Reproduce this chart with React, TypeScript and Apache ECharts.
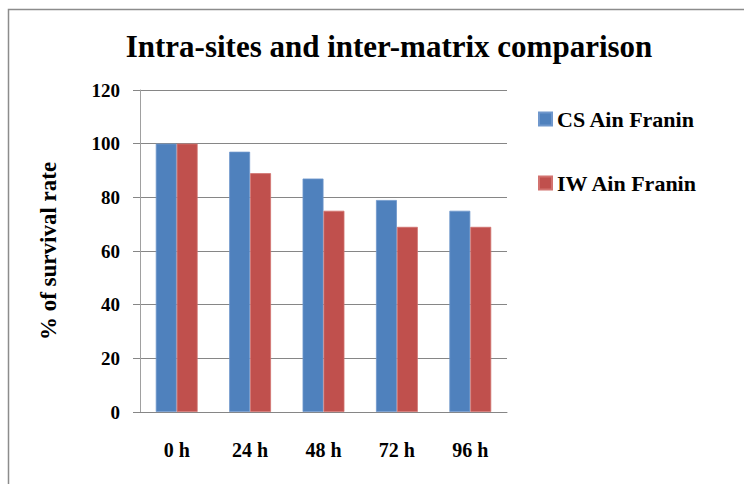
import React, { useEffect, useRef } from "react";
import * as echarts from "echarts";

const categories = ["0 h", "24 h", "48 h", "72 h", "96 h"];
const csAinFranin = [100, 97, 87, 79, 75];
const iwAinFranin = [100, 89, 75, 69, 69];
const seriesNames = ["CS Ain Franin", "IW Ain Franin"];
const titleText = "Intra-sites and inter-matrix comparison";
const yAxisName = "% of survival rate";

const FONT = "'Liberation Serif', 'Times New Roman', serif";

export default function App() {
  const ref = useRef<HTMLDivElement>(null);
  useEffect(() => {
    if (!ref.current) return;
    const chart = echarts.init(ref.current, undefined, { renderer: "svg" });
    chart.setOption({
      animation: false,
      backgroundColor: "#ffffff",
      title: {
        text: titleText,
        left: 384,
        top: 26,
        textAlign: "center",
        textStyle: { fontFamily: FONT, fontWeight: "bold", fontSize: 31, color: "#000" },
      },
      graphic: [
        {
          type: "rect",
          shape: { x: 8.5, y: 9.5, width: 900, height: 600 },
          style: { fill: "none", stroke: "#8c8c8c", lineWidth: 1.5 },
          silent: true,
          z: -1,
        },
      ],
      legend: {
        orient: "vertical",
        left: 533,
        top: 103,
        itemWidth: 13,
        itemHeight: 13,
        itemGap: 42,
        icon: "rect",
        data: seriesNames,
        textStyle: { fontFamily: FONT, fontWeight: "bold", fontSize: 22, color: "#000" },
      },
      grid: { left: 140, right: 744 - 507, top: 90, bottom: 484 - 412, containLabel: false },
      xAxis: {
        type: "category",
        data: categories,
        axisLine: { lineStyle: { color: "#868686", width: 1 } },
        axisTick: { show: false },
        axisLabel: {
          margin: 28,
          fontFamily: FONT,
          fontWeight: "bold",
          fontSize: 20,
          color: "#000",
        },
      },
      yAxis: {
        type: "value",
        min: 0,
        max: 120,
        interval: 20,
        name: yAxisName,
        nameLocation: "middle",
        nameGap: 80,
        nameTextStyle: { fontFamily: FONT, fontWeight: "bold", fontSize: 23, color: "#000" },
        axisLine: { show: true, lineStyle: { color: "#a0a0a0", width: 1 } },
        axisTick: { show: true, length: 7, lineStyle: { color: "#868686" } },
        splitLine: { lineStyle: { color: "#868686", width: 1 } },
        axisLabel: {
          margin: 20,
          fontFamily: FONT,
          fontWeight: "bold",
          fontSize: 19,
          color: "#000",
        },
      },
      series: [
        {
          name: seriesNames[0],
          type: "bar",
          data: csAinFranin,
          barGap: "0%",
          barCategoryGap: "43%",
          itemStyle: { color: "#4F81BD", borderColor: "#6f97cc", borderWidth: 0.8 },
        },
        {
          name: seriesNames[1],
          type: "bar",
          data: iwAinFranin,
          barGap: "0%",
          barCategoryGap: "43%",
          itemStyle: { color: "#C0504D", borderColor: "#d2726f", borderWidth: 0.8 },
        },
      ],
    });
    return () => chart.dispose();
  }, []);
  return (
    <div
      ref={ref}
      style={{ position: "fixed", left: 0, top: 0, width: 744, height: 484 }}
    />
  );
}
